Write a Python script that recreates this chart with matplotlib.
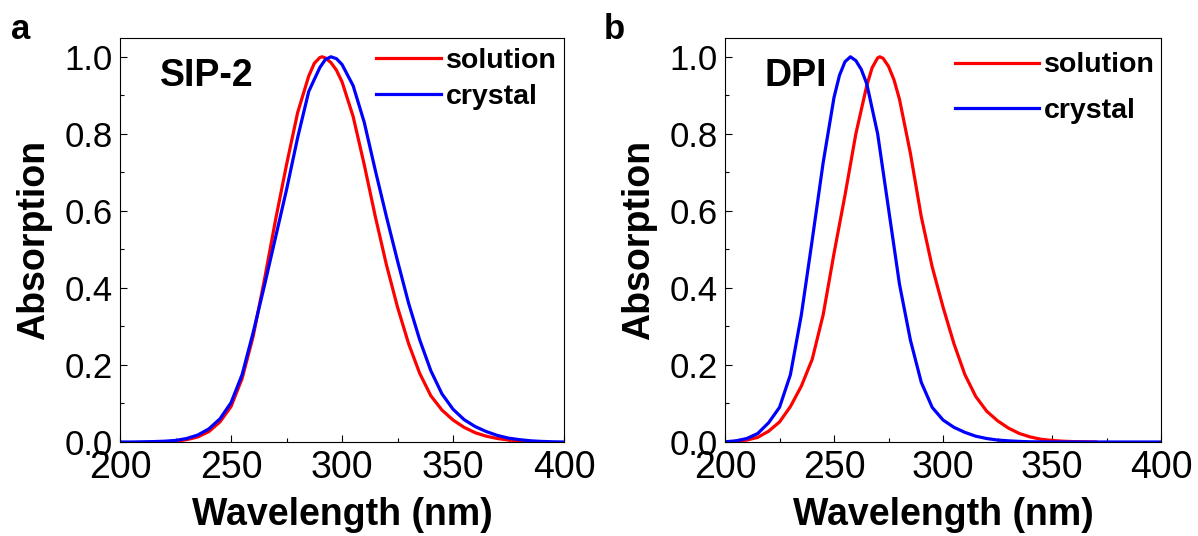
import numpy as np
import matplotlib
matplotlib.use("Agg")
import matplotlib.pyplot as plt
from matplotlib.ticker import MultipleLocator

plt.rcParams['font.family'] = ['Liberation Sans', 'DejaVu Sans']

# SIP-2 spectra
sip_sol_wl = [225, 230, 235, 240, 245, 250, 255, 260, 265, 270, 275, 280, 285, 287.5, 290,
              291, 292.5, 295, 297.5, 300, 305, 310, 315, 320, 325, 330, 335, 340, 345, 350,
              355, 360, 365, 370, 375, 380, 385]
sip_sol_abs = [0.002, 0.006, 0.013, 0.027, 0.052, 0.092, 0.165, 0.275, 0.42, 0.575, 0.72,
               0.855, 0.95, 0.983, 0.998, 1.0, 0.997, 0.985, 0.965, 0.935, 0.845, 0.72,
               0.585, 0.46, 0.35, 0.255, 0.178, 0.12, 0.083, 0.057, 0.038, 0.024, 0.015,
               0.009, 0.005, 0.003, 0.0015]
sip_cry_wl = [200, 205, 210, 215, 220, 225, 230, 235, 240, 245, 250, 255, 260, 265, 270,
              275, 280, 285, 290, 292.5, 295, 297.5, 300, 305, 310, 315, 320, 325, 330, 335,
              340, 345, 350, 355, 360, 365, 370, 375, 380, 385, 390, 395, 400]
sip_cry_abs = [0.0, 0.0, 0.0005, 0.001, 0.002, 0.004, 0.009, 0.018, 0.034, 0.06, 0.102,
               0.175, 0.285, 0.405, 0.53, 0.655, 0.79, 0.91, 0.972, 0.993, 1.0, 0.995, 0.98,
               0.925, 0.83, 0.705, 0.585, 0.47, 0.36, 0.265, 0.185, 0.125, 0.085, 0.058,
               0.04, 0.027, 0.017, 0.01, 0.006, 0.003, 0.0015, 0.0005, 0.0]

# DPI spectra
dpi_sol_wl = [205, 210, 215, 220, 225, 230, 235, 240, 245, 250, 255, 260, 265, 267.5, 270,
              271, 272.5, 275, 277.5, 280, 285, 290, 295, 300, 305, 310, 315, 320, 325, 330,
              335, 340, 345, 350, 355, 360, 365, 370]
dpi_sol_abs = [0.002, 0.005, 0.012, 0.028, 0.052, 0.092, 0.145, 0.215, 0.33, 0.49, 0.64,
               0.80, 0.925, 0.972, 0.997, 1.0, 0.996, 0.975, 0.94, 0.89, 0.75, 0.585, 0.455,
               0.35, 0.255, 0.175, 0.118, 0.08, 0.055, 0.036, 0.022, 0.013, 0.007, 0.004,
               0.002, 0.001, 0.0005, 0.0]
dpi_cry_wl = [200, 205, 210, 215, 220, 225, 230, 235, 240, 245, 250, 252.5, 255, 257.5, 260,
              262.5, 265, 270, 275, 280, 285, 290, 295, 300, 305, 310, 315, 320, 325, 330,
              335, 340, 350, 400]
dpi_cry_abs = [0.0005, 0.003, 0.009, 0.022, 0.05, 0.09, 0.175, 0.33, 0.525, 0.725, 0.895,
               0.952, 0.987, 1.0, 0.99, 0.967, 0.93, 0.80, 0.605, 0.41, 0.265, 0.155, 0.09,
               0.057, 0.038, 0.025, 0.015, 0.009, 0.005, 0.003, 0.0015, 0.0005, 0.0, 0.0]

fig = plt.figure(figsize=(11.98, 5.36), dpi=100)
ax1 = fig.add_axes([0.1002, 0.1754, 0.3706, 0.7546])
ax2 = fig.add_axes([0.6052, 0.1754, 0.3640, 0.7546])

panels = [
    (ax1, sip_sol_wl, sip_sol_abs, sip_cry_wl, sip_cry_abs, "SIP-2",
     (0.5766, 0.975), 0.38, 2.27, -0.153),
    (ax2, dpi_sol_wl, dpi_sol_abs, dpi_cry_wl, dpi_cry_abs, "DPI",
     (0.5275, 0.963), 0.67, 2.95, -0.156),
]

for ax, swl, sab, cwl, cab, name, lpos, lsp, hlen, ylx in panels:
    ax.plot(swl, sab, color="#ff0000", lw=2.3, label="solution")
    ax.plot(cwl, cab, color="#0000ff", lw=2.3, label="crystal")
    ax.set_xlim(200, 400)
    ax.set_ylim(0, 1.05)
    ax.xaxis.set_major_locator(MultipleLocator(50))
    ax.xaxis.set_minor_locator(MultipleLocator(25))
    ax.yaxis.set_major_locator(MultipleLocator(0.2))
    ax.yaxis.set_minor_locator(MultipleLocator(0.1))
    ax.set_yticks([0.0, 0.2, 0.4, 0.6, 0.8, 1.0])
    ax.set_yticklabels(["0.0", "0.2", "0.4", "0.6", "0.8", "1.0"])
    ax.tick_params(which="both", direction="in", top=False, right=False, width=0.8)
    ax.tick_params(which="major", length=5)
    ax.tick_params(which="minor", length=3)
    ax.tick_params(axis="x", labelsize=27, pad=6)
    ax.tick_params(axis="y", labelsize=25, pad=5.5)
    for sp in ax.spines.values():
        sp.set_linewidth(0.8)
    ax.set_xlabel("Wavelength (nm)", fontsize=27, fontweight="bold")
    ax.set_ylabel("Absorption", fontsize=27, fontweight="bold")
    ax.xaxis.set_label_coords(0.5, -0.135)
    ax.yaxis.set_label_coords(ylx, 0.5)
    ax.text(0.09, 0.905, name, transform=ax.transAxes, fontsize=27,
            fontweight="bold", va="center", ha="left")
    ax.legend(loc="upper left", bbox_to_anchor=lpos, frameon=False,
              prop={"size": 20.5, "weight": "bold"}, handlelength=hlen,
              handletextpad=0.18, labelspacing=lsp, borderpad=0, borderaxespad=0)

fig.text(0.009, 0.945, "a", fontsize=25, fontweight="bold", va="center")
fig.text(0.504, 0.945, "b", fontsize=25, fontweight="bold", va="center")

fig.savefig("out.png", dpi=100)
